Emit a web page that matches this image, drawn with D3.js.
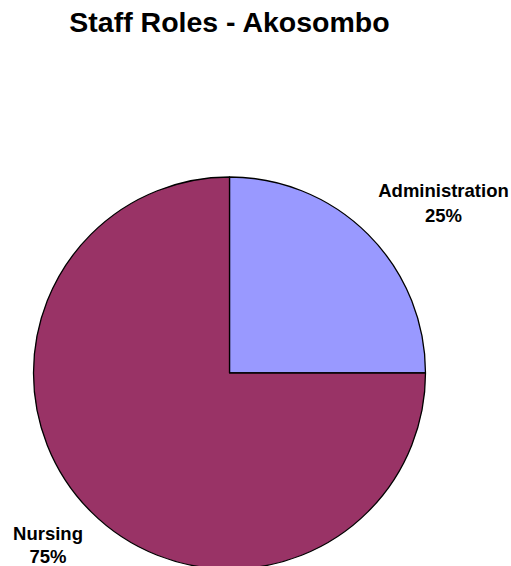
<!DOCTYPE html>
<html>
<head>
<meta charset="utf-8">
<script src="https://cdn.jsdelivr.net/npm/d3@7"></script>
<style>
html,body{margin:0;padding:0;background:#fff;}
svg{display:block;}
text{font-family:"Liberation Sans",Arial,sans-serif;font-weight:bold;fill:#000;}
</style>
</head>
<body>
<svg id="chart" width="511" height="566"></svg>
<script>
const title = "Staff Roles - Akosombo";
const categories = ["Administration", "Nursing"];
const values = [25, 75];
const colors = ["#9999FF", "#993366"];

const svg = d3.select("#chart");
const cx = 229.5, cy = 373, R = 196;

svg.append("text")
  .attr("x", 229.5).attr("y", 32)
  .attr("text-anchor", "middle")
  .style("font-size", "28.5px")
  .text(title);

const pie = d3.pie().sort(null).value(d => d)(values);
const arc = d3.arc().innerRadius(0).outerRadius(R);
const color = d3.scaleOrdinal().domain(categories).range(colors);

const g = svg.append("g").attr("transform", `translate(${cx},${cy})`);
g.selectAll("path").data(pie).join("path")
  .attr("d", arc)
  .attr("fill", (d, i) => color(categories[i]))
  .attr("stroke", "#000")
  .attr("stroke-width", 1.3)
  .attr("stroke-linejoin", "round");

const total = d3.sum(values);
const labelPos = [[443.5, 197, 24.5], [48, 540, 23]];
const lg = svg.append("g");
pie.forEach((d, i) => {
  const t = lg.append("text")
    .attr("text-anchor", "middle")
    .style("font-size", "18.5px");
  t.append("tspan").attr("x", labelPos[i][0]).attr("y", labelPos[i][1]).text(categories[i]);
  t.append("tspan").attr("x", labelPos[i][0]).attr("dy", labelPos[i][2])
    .text(d3.format(".0%")(d.data / total));
});
</script>
</body>
</html>
